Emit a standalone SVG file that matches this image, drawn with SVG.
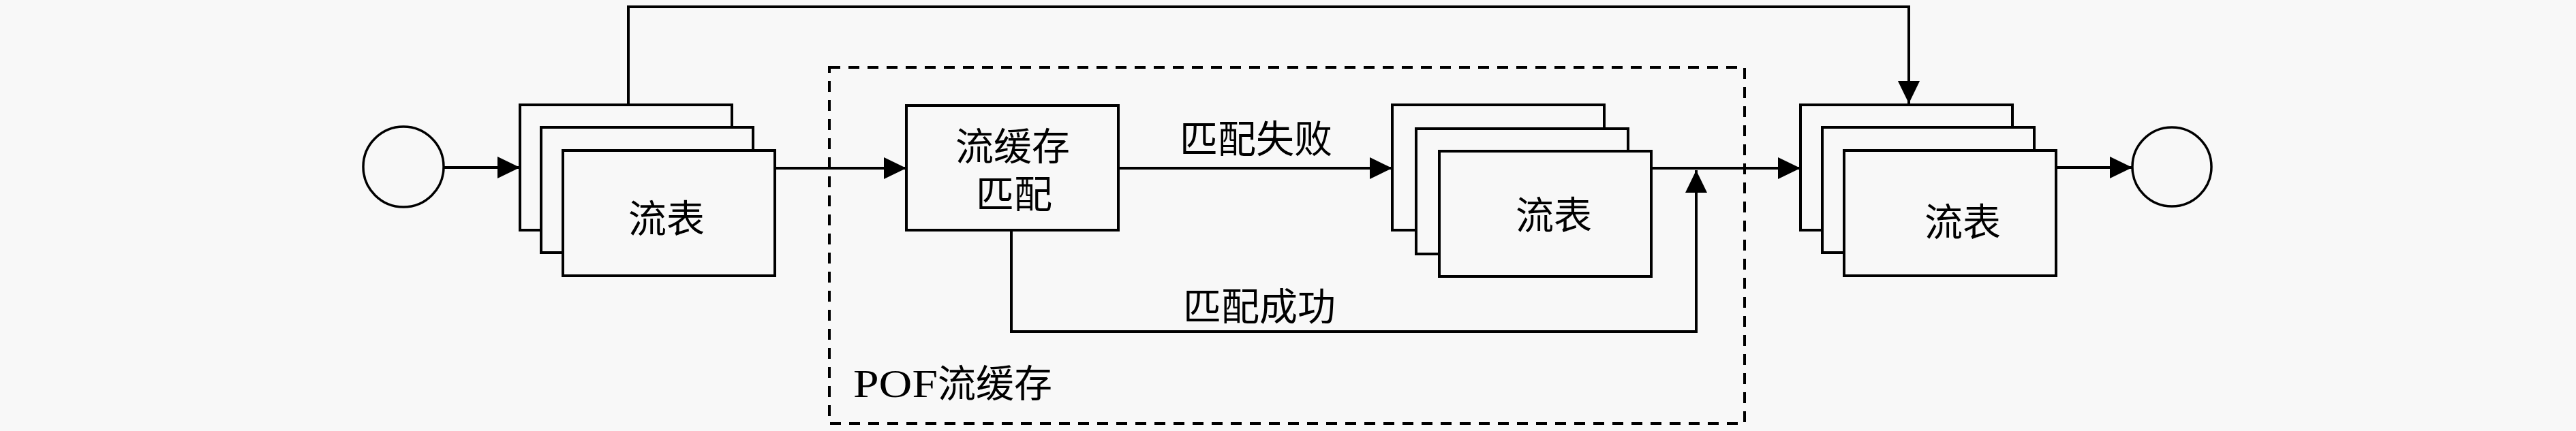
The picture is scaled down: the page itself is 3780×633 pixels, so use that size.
<svg xmlns="http://www.w3.org/2000/svg" width="3780" height="633" viewBox="0 0 3780 633">
<style>
.bg{fill:#f8f8f8}
.box{fill:#f8f8f8;stroke:#000;stroke-width:4}
.term{fill:#f8f8f8;stroke:#000;stroke-width:3.5}
.wire{fill:none;stroke:#000;stroke-width:4}
.group{fill:none;stroke:#000;stroke-width:4;stroke-dasharray:16 12}
.lbl{font-family:"Liberation Serif","Noto Sans CJK SC",serif;font-size:56px;fill:#000;dominant-baseline:central}
.c{text-anchor:middle}
</style>
<defs>
<marker id="arr" viewBox="0 0 33 32" refX="33" refY="16" markerWidth="33" markerHeight="32" markerUnits="userSpaceOnUse" orient="auto">
<path d="M0,0 L33,16 L0,32 z" fill="#000"/>
</marker>
</defs>
<rect class="bg" x="0" y="0" width="3780" height="633"/>

<g id="pof-cache">
<rect class="group" x="1217" y="99" width="1343" height="523"/>
<text class="lbl" x="1252" y="564"><tspan textLength="124" lengthAdjust="spacingAndGlyphs">POF</tspan>流缓存</text>
</g>

<g id="start">
<circle class="term" cx="592" cy="245" r="59"/>
</g>

<g id="flowtable-1">
<rect class="box" x="763" y="154" width="311" height="184"/>
<rect class="box" x="794" y="187" width="311" height="184"/>
<rect class="box" x="826" y="221" width="311" height="184"/>
<text class="lbl c" x="978" y="322">流表</text>
</g>

<g id="cache-match">
<rect class="box" x="1330" y="155" width="311" height="183"/>
<text class="lbl c" x="1486" y="216">流缓存</text>
<text class="lbl c" x="1488" y="286">匹配</text>
</g>

<g id="flowtable-2">
<rect class="box" x="2043" y="154" width="311" height="184"/>
<rect class="box" x="2078" y="189" width="311" height="184"/>
<rect class="box" x="2112" y="222" width="311" height="184"/>
<text class="lbl c" x="2280" y="317">流表</text>
</g>

<g id="flowtable-3">
<rect class="box" x="2642" y="154" width="311" height="184"/>
<rect class="box" x="2674" y="187" width="311" height="184"/>
<rect class="box" x="2706" y="221" width="311" height="184"/>
<text class="lbl c" x="2880" y="327">流表</text>
</g>

<g id="end">
<circle class="term" cx="3187" cy="245" r="58"/>
</g>

<g id="connectors">
<path class="wire" d="M651 246 H763" marker-end="url(#arr)"/>
<path class="wire" d="M1137 247 H1330" marker-end="url(#arr)"/>
<path class="wire" d="M1641 247 H2043" marker-end="url(#arr)"/>
<path class="wire" d="M2423 247 H2642" marker-end="url(#arr)"/>
<path class="wire" d="M3017 246 H3129" marker-end="url(#arr)"/>
<path class="wire" d="M922 154 V10 H2801 V152" marker-end="url(#arr)"/>
<path class="wire" d="M1484 338 V487 H2489 V250" marker-end="url(#arr)"/>
<text class="lbl c" x="1843" y="205">匹配失败</text>
<text class="lbl c" x="1848" y="451">匹配成功</text>
</g>
</svg>
